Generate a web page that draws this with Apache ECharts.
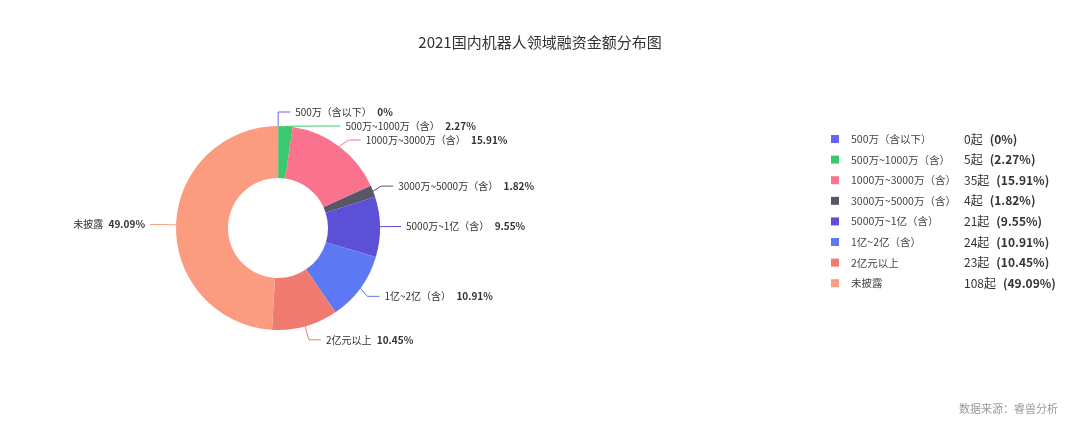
<!DOCTYPE html>
<html><head><meta charset="utf-8">
<script src="https://cdn.jsdelivr.net/npm/echarts@6/dist/echarts.min.js"></script>
<style>html,body{margin:0;padding:0;background:#fff}#c{width:1080px;height:422px}</style>
</head><body><div id="c"></div>
<script>
const categories = ['500万（含以下）','500万~1000万（含）','1000万~3000万（含）','3000万~5000万（含）','5000万~1亿（含）','1亿~2亿（含）','2亿元以上','未披露'];
const counts = [0,5,35,4,21,24,23,108];
const percents = ['0%','2.27%','15.91%','1.82%','9.55%','10.91%','10.45%','49.09%'];
const colors = ['#6b63f0','#3cc86c','#f9728e','#5a5565','#5b50d6','#5c78f2','#f17a70','#fb9c80'];
const titleText = '2021国内机器人领域融资金额分布图';
const sourceText = '数据来源：睿兽分析';

const font = '"Noto Sans CJK SC", "Microsoft YaHei", sans-serif';
const data = categories.map((n,i)=>({name:n,value:counts[i],itemStyle:{color:colors[i]},labelLine:{lineStyle:{color:colors[i]}}}));
const chart = echarts.init(document.getElementById('c'));
chart.setOption({
  animation:false,
  textStyle:{fontFamily:font},
  title:[{text:titleText,left:'center',top:30,textStyle:{fontSize:15,fontWeight:'normal',color:'#333',fontFamily:font}},
         {text:sourceText,right:17,top:398,textStyle:{fontSize:11,fontWeight:'normal',color:'#999',fontFamily:font}}],
  legend:{orient:'vertical',left:826,top:128,itemWidth:8,itemHeight:8,itemGap:8.6,icon:'rect',
    data:categories,
    formatter:function(name){const i=categories.indexOf(name);return '{n|'+name+'}{c|'+counts[i]+'起}{p|('+percents[i]+')}';},
    textStyle:{rich:{n:{width:113,padding:[0,0,0,7],fontSize:10.5,color:'#444',fontFamily:font},c:{fontSize:12,color:'#333',padding:[0,7,0,0],fontFamily:font},p:{fontSize:12,fontWeight:'bold',color:'#333',fontFamily:font}}}},
  series:[{type:'pie',center:[278,228],radius:[50,102],startAngle:89.9,clockwise:true,
    minShowLabelAngle:0,stillShowZeroSum:true,
    data:data,
    label:{show:true,formatter:function(p){return '{n|'+p.name+'}  {p|'+percents[p.dataIndex]+'}';},
      rich:{n:{fontSize:10,color:'#333',fontFamily:font},p:{fontSize:10,fontWeight:'bold',color:'#333',fontFamily:font}}},
    labelLine:{show:true,length:14,length2:12}
  }]
});
</script></body></html>
